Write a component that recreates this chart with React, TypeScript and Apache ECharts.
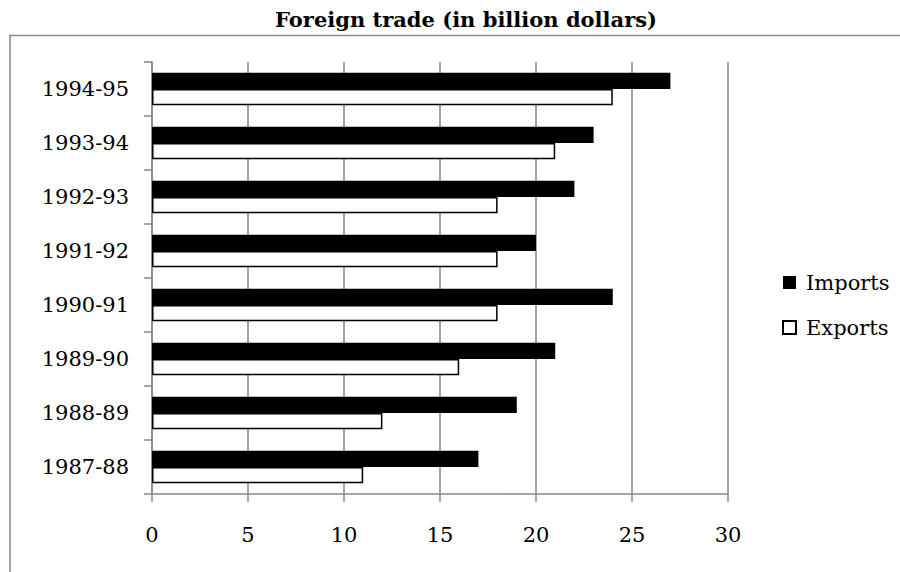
import React, { useEffect, useRef } from "react";
import * as echarts from "echarts";

const years = ["1987-88", "1988-89", "1989-90", "1990-91", "1991-92", "1992-93", "1993-94", "1994-95"];
const imports = [17, 19, 21, 24, 20, 22, 23, 27];
const exports = [11, 12, 16, 18, 18, 18, 21, 24];
const xTicks = { min: 0, max: 30, interval: 5 };
const titleText = "Foreign trade (in billion dollars)";

const FONT = "DejaVu Serif";
const GRAY = "#878787";

export default function App() {
  const ref = useRef<HTMLDivElement>(null);
  useEffect(() => {
    if (!ref.current) return;
    const chart = echarts.init(ref.current, undefined, { renderer: "svg" });
    chart.setOption({
      animation: false,
      backgroundColor: "#fff",
      graphic: [
        {
          type: "rect",
          shape: { x: 10, y: 35.5, width: 1000, height: 1000 },
          style: { fill: "none", stroke: GRAY, lineWidth: 1.5 },
          silent: true,
        },
        {
          type: "text",
          x: 466,
          y: 19,
          style: {
            text: titleText,
            font: `bold 21px "${FONT}"`,
            fill: "#000",
            textAlign: "center",
            textVerticalAlign: "middle",
          },
        },
      ],
      legend: {
        orient: "vertical",
        left: 782,
        top: 272,
        padding: 0,
        itemWidth: 13,
        itemHeight: 13,
        itemGap: 24,
        icon: "rect",
        data: ["Imports", "Exports"],
        textStyle: { fontFamily: FONT, fontSize: 21, color: "#000", padding: [0, 0, 0, 5] },
      },
      grid: { left: 152, right: 172, top: 62, bottom: 78, containLabel: false },
      xAxis: {
        type: "value",
        min: xTicks.min,
        max: xTicks.max,
        interval: xTicks.interval,
        axisLine: { show: true, lineStyle: { color: GRAY, width: 1.5 } },
        axisTick: { show: true, length: 8, lineStyle: { color: GRAY, width: 1.5 } },
        splitLine: { show: true, lineStyle: { color: GRAY, width: 1.5 } },
        axisLabel: { fontFamily: FONT, fontSize: 21, color: "#000", margin: 30 },
      },
      yAxis: {
        type: "category",
        data: years,
        axisLine: { show: true, lineStyle: { color: GRAY, width: 1.5 } },
        axisTick: { show: true, length: 8, lineStyle: { color: GRAY, width: 1.5 } },
        splitLine: { show: false },
        axisLabel: { fontFamily: FONT, fontSize: 21, color: "#000", margin: 23 },
      },
      series: [
        {
          name: "Imports",
          type: "bar",
          data: imports,
          barGap: "0%",
          barCategoryGap: "40%",
          itemStyle: { color: "#000" },
        },
        {
          name: "Exports",
          type: "bar",
          data: exports,
          barGap: "0%",
          barCategoryGap: "40%",
          itemStyle: { color: "#fff", borderColor: "#000", borderWidth: 1.5 },
        },
      ],
    });
    return () => chart.dispose();
  }, []);
  return (
    <div
      ref={ref}
      style={{ position: "fixed", left: 0, top: 0, width: 900, height: 572, background: "#fff" }}
    />
  );
}
